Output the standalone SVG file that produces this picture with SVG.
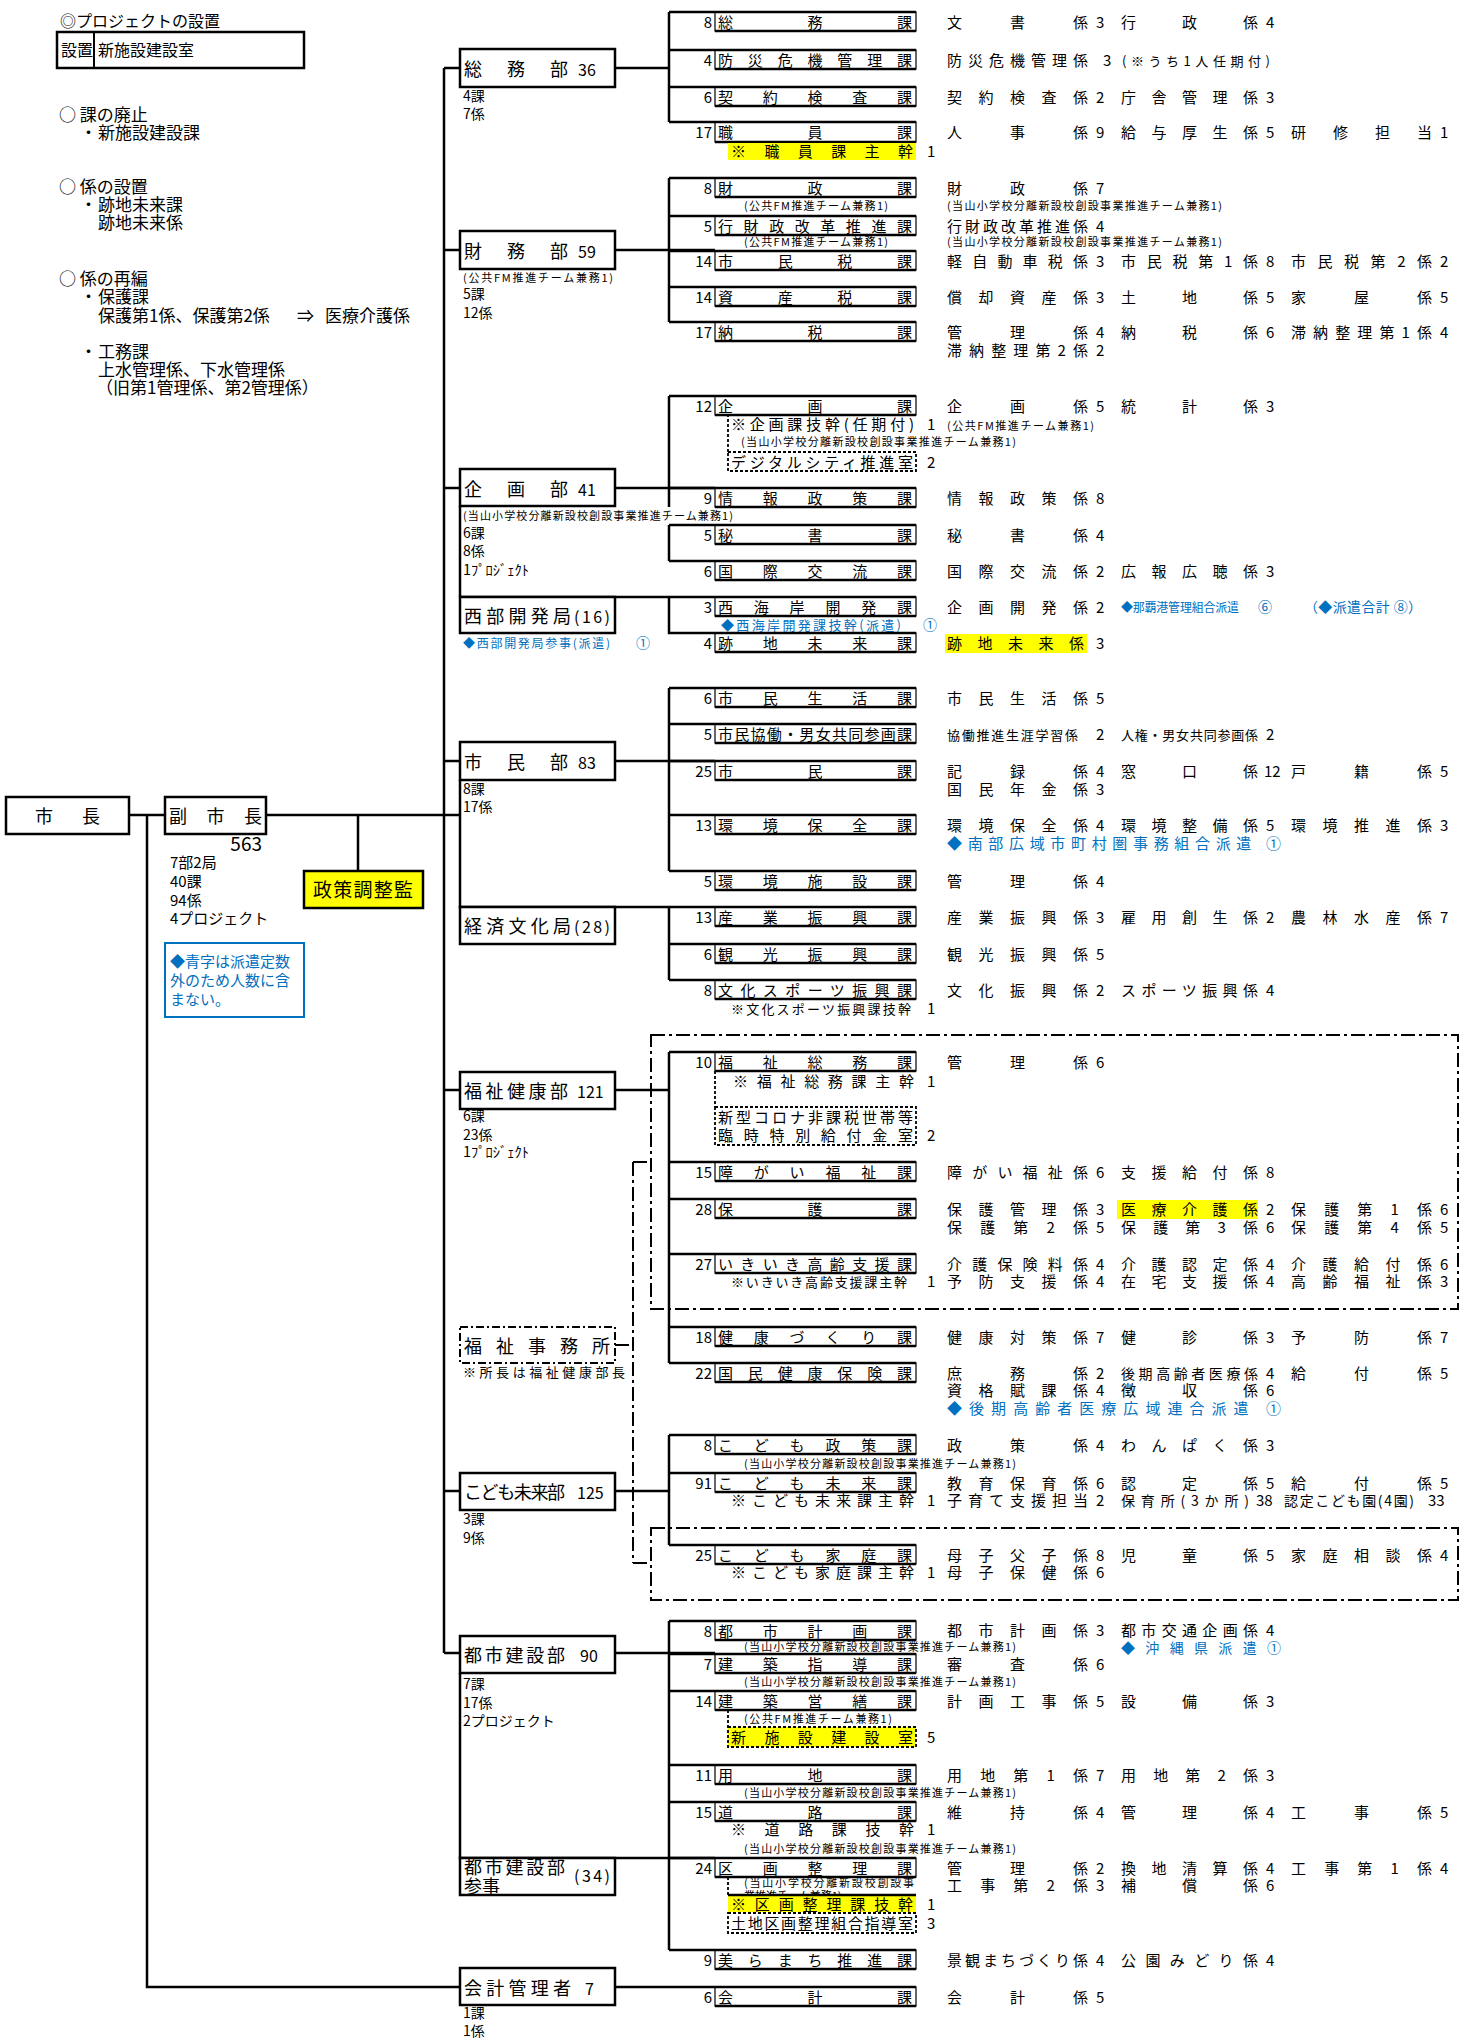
<svg xmlns="http://www.w3.org/2000/svg" width="1466" height="2038" viewBox="0 0 1466 2038">
<style>
text{font-family:"Noto Sans CJK JP","Noto Sans",sans-serif;fill:#000}
.ln{fill:none;stroke:#000;stroke-width:2.5}
.db{fill:#fff;stroke:#000;stroke-width:2.5}
.dbd{fill:#fff;stroke:#000;stroke-width:2;stroke-dasharray:8 3 2 3}
.sb{fill:#fff;stroke:#000;stroke-width:1.2}
.se{fill:none;stroke:#000;stroke-width:2.5}
.ds{fill:none;stroke:#000;stroke-width:1.8;stroke-dasharray:3 2}
.dd{fill:none;stroke:#000;stroke-width:2;stroke-dasharray:14 4 3 4}
.f19{font-size:19px}.f18{font-size:18px}.f17{font-size:17px}.f16{font-size:16px}.f15{font-size:15px}.f14{font-size:14px}.f13{font-size:13px}.f12{font-size:12px}.sm{font-size:11px}
.num{font-size:15px;text-anchor:end}
.bl{fill:#0070C0}
.yl{fill:#FFFF00}
</style>
<rect x="0" y="0" width="1466" height="2038" fill="#fff"/>

<!-- left notes -->
<g id="notes">
<text class="f16" x="60" y="27">◎プロジェクトの設置</text>
<rect x="57" y="32" width="247" height="36" fill="none" stroke="#000" stroke-width="2.5"/>
<path d="M94 32V68" stroke="#000" stroke-width="2"/>
<text class="f16" x="61" y="56">設置</text>
<text class="f16" x="98" y="56">新施設建設室</text>
<text class="f17" x="59" y="121">○ 課の廃止</text>
<text class="f17" x="80" y="139">・</text><text class="f17" x="98" y="139">新施設建設課</text>
<text class="f17" x="59" y="193">○ 係の設置</text>
<text class="f17" x="80" y="211">・</text><text class="f17" x="98" y="211">跡地未来課</text>
<text class="f17" x="98" y="229">跡地未来係</text>
<text class="f17" x="59" y="285">○ 係の再編</text>
<text class="f17" x="80" y="303">・</text><text class="f17" x="98" y="303">保護課</text>
<text class="f17" x="98" y="322">保護第1係、保護第2係</text><text class="f17" x="297" y="322">⇒</text><text class="f17" x="325" y="322">医療介護係</text>
<text class="f17" x="80" y="358">・</text><text class="f17" x="98" y="358">工務課</text>
<text class="f17" x="98" y="376">上水管理係、下水管理係</text>
<text class="f17" x="96" y="394">（旧第1管理係、第2管理係）</text>
</g>

<!-- connectors -->
<g id="connectors" class="ln">
<path d="M129 815H165M147 815V1987H460M266 815H460M358 815V871M444 68V1653"/>
<path d="M444 68H460M444 250H460M444 488H460M444 761H460M444 1090H460M444 1491H460M444 1653H460"/>
<path d="M615 68H669M615 250H715M615 488H715M615 761H715M615 1090H669M615 1491H669M615 1653H715M615 1987H715"/>
<path d="M460 506V597M460 597H715M669 597V633H715"/>
<path d="M460 780V815M460 815V907H715"/>
<path d="M460 1673V1858H715"/>
<path d="M669 12V122M669 12H715M669 50H715M669 87H715M669 122H715"/>
<path d="M669 178V322M669 178H715M669 216H715M669 251H715M669 287H715M669 322H715"/>
<path d="M669 396V507M669 396H715M669 488H715"/>
<path d="M669 525V561M669 525H715M669 561H715"/>
<path d="M669 688V871M669 688H715M669 724H715M669 761H715M669 815H715M669 871H715"/>
<path d="M669 907V980M669 944H715M669 980H715"/>
<path d="M669 1052V1363M669 1052H715M669 1162H715M669 1199H715M669 1254H715M669 1327H715M669 1363H715"/>
<path d="M669 1435V1545M669 1435H715M669 1473H715M669 1545H715"/>
<path d="M669 1621V1950M669 1621H715M669 1654H715M669 1691H715M669 1765H715M669 1802H715M669 1858H715M669 1950H715"/>
</g>
<g id="connectors-dashed">
<path class="ds" d="M728 414V452M715 1071V1107M728 1710V1727M728 1877V1895"/>
<path class="dd" d="M633 1162V1563M633 1162H651M633 1563H651M615 1345H633"/>
<rect class="dd" x="651" y="1035" width="807" height="274"/>
<rect class="dd" x="651" y="1528" width="807" height="72"/>
</g>

<!-- top nodes -->
<g id="mayor"><rect class="db" x="6" y="797" width="123" height="37"/><text class="f18" x="35" y="823">市</text><text class="f18" x="82" y="823">長</text></g>
<g id="vice-mayor"><rect class="db" x="165" y="797" width="101" height="37"/><text class="f18" x="169" y="823" textLength="93" lengthAdjust="spacing">副市長</text>
<text class="f19" x="262" y="851" text-anchor="end">563</text>
<text class="f15" x="170" y="868">7部2局</text><text class="f15" x="170" y="887">40課</text><text class="f15" x="170" y="906">94係</text><text class="f15" x="170" y="924">4プロジェクト</text>
</g>
<g id="seisaku"><rect x="304" y="871" width="119" height="37" class="yl" stroke="#000" stroke-width="2.5"/><text class="f19" x="313" y="897" textLength="100" lengthAdjust="spacing">政策調整監</text></g>
<g id="legend"><rect x="165" y="943" width="139" height="74" fill="#fff" stroke="#0070C0" stroke-width="2"/>
<text class="f15 bl" x="170" y="967">◆青字は派遣定数</text><text class="f15 bl" x="170" y="986">外のため人数に含</text><text class="f15 bl" x="170" y="1005">まない。</text></g>

<!-- departments -->
<g id="d-somu"><rect class="db" x="460" y="49" width="155" height="38"/><text class="f18" x="464" y="76" textLength="104" lengthAdjust="spacing">総務部</text><text class="f16" x="578" y="76">36</text>
<text class="f14" x="463" y="101">4課</text><text class="f14" x="463" y="119">7係</text></g>
<g id="d-zaimu"><rect class="db" x="460" y="231" width="155" height="38"/><text class="f18" x="464" y="258" textLength="104" lengthAdjust="spacing">財務部</text><text class="f16" x="578" y="258">59</text>
<text class="sm" x="463" y="282" textLength="150" lengthAdjust="spacing">(公共FM推進チーム兼務1)</text>
<text class="f14" x="463" y="299">5課</text><text class="f14" x="463" y="318">12係</text></g>
<g id="d-kikaku"><rect class="db" x="460" y="469" width="155" height="37"/><text class="f18" x="464" y="496" textLength="104" lengthAdjust="spacing">企画部</text><text class="f16" x="578" y="496">41</text>
<text class="sm" x="463" y="520" textLength="270" lengthAdjust="spacing">(当山小学校分離新設校創設事業推進チーム兼務1)</text>
<text class="f14" x="463" y="538">6課</text><text class="f14" x="463" y="556">8係</text><text class="f14" x="463" y="575" textLength="66" lengthAdjust="spacingAndGlyphs">1ﾌﾟﾛｼﾞｪｸﾄ</text></g>
<g id="d-seibu"><rect class="db" x="460" y="597" width="155" height="36"/><text class="f18" x="464" y="623" textLength="107" lengthAdjust="spacing">西部開発局</text><text class="f16" x="574" y="623" textLength="36" lengthAdjust="spacing">(16)</text>
<text class="f12 bl" x="463" y="648" textLength="147" lengthAdjust="spacing">◆西部開発局参事(派遣)</text><text class="f14 bl" x="636" y="648">①</text></g>
<g id="d-shimin"><rect class="db" x="460" y="742" width="155" height="38"/><text class="f18" x="464" y="769" textLength="104" lengthAdjust="spacing">市民部</text><text class="f16" x="578" y="769">83</text>
<text class="f14" x="463" y="794">8課</text><text class="f14" x="463" y="812">17係</text></g>
<g id="d-keizai"><rect class="db" x="460" y="907" width="155" height="37"/><text class="f18" x="464" y="933" textLength="107" lengthAdjust="spacing">経済文化局</text><text class="f16" x="574" y="933" textLength="36" lengthAdjust="spacing">(28)</text></g>
<g id="d-fukushi"><rect class="db" x="460" y="1072" width="155" height="37"/><text class="f18" x="464" y="1098" textLength="104" lengthAdjust="spacing">福祉健康部</text><text class="f16" x="577" y="1098">121</text>
<text class="f14" x="463" y="1121">6課</text><text class="f14" x="463" y="1140">23係</text><text class="f14" x="463" y="1157" textLength="66" lengthAdjust="spacingAndGlyphs">1ﾌﾟﾛｼﾞｪｸﾄ</text></g>
<g id="d-jimusho"><rect class="dbd" x="460" y="1327" width="155" height="36"/><text class="f18" x="464" y="1353" textLength="146" lengthAdjust="spacing">福祉事務所</text>
<text class="f13" x="463" y="1377" textLength="162" lengthAdjust="spacing">※所長は福祉健康部長</text></g>
<g id="d-kodomo"><rect class="db" x="460" y="1473" width="155" height="37"/><text class="f18" x="464" y="1499" textLength="101" lengthAdjust="spacing">こども未来部</text><text class="f16" x="577" y="1499">125</text>
<text class="f14" x="463" y="1524">3課</text><text class="f14" x="463" y="1543">9係</text></g>
<g id="d-toshi"><rect class="db" x="460" y="1636" width="155" height="37"/><text class="f18" x="464" y="1662" textLength="101" lengthAdjust="spacing">都市建設部</text><text class="f16" x="580" y="1662">90</text>
<text class="f14" x="463" y="1689">7課</text><text class="f14" x="463" y="1708">17係</text><text class="f14" x="463" y="1726">2プロジェクト</text></g>
<g id="d-sanji"><rect class="db" x="460" y="1858" width="155" height="37"/><text class="f18" x="464" y="1874" textLength="101" lengthAdjust="spacing">都市建設部</text><text class="f18" x="464" y="1893">参事</text><text class="f16" x="574" y="1882" textLength="36" lengthAdjust="spacing">(34)</text></g>
<g id="d-kaikei"><rect class="db" x="460" y="1968" width="155" height="37"/><text class="f18" x="464" y="1995" textLength="107" lengthAdjust="spacing">会計管理者</text><text class="f16" x="585" y="1995">7</text>
<text class="f14" x="463" y="2018">1課</text><text class="f14" x="463" y="2036">1係</text></g>

<!-- sections -->
<g id="s01"><rect class="sb" x="715" y="12" width="201" height="19"/><path class="se" d="M715 12h201M715 31h201"/><text class="num" x="712" y="28">8</text><text class="f15" x="718" y="28" textLength="194" lengthAdjust="spacing">総務課</text>
<text class="f15" x="947" y="28" textLength="141" lengthAdjust="spacing">文書係</text><text class="f15" x="1096" y="28">3</text><text class="f15" x="1121" y="28" textLength="137" lengthAdjust="spacing">行政係</text><text class="f15" x="1266" y="28">4</text></g>
<g id="s02"><rect class="sb" x="715" y="50" width="201" height="19"/><path class="se" d="M715 50h201M715 69h201"/><text class="num" x="712" y="66">4</text><text class="f15" x="718" y="66" textLength="194" lengthAdjust="spacing">防災危機管理課</text>
<text class="f15" x="947" y="66" textLength="141" lengthAdjust="spacing">防災危機管理係</text><text class="f15" x="1103" y="66">3</text><text class="f13" x="1122" y="66" textLength="148" lengthAdjust="spacing">(※うち1人任期付)</text></g>
<g id="s03"><rect class="sb" x="715" y="87" width="201" height="19"/><path class="se" d="M715 87h201M715 106h201"/><text class="num" x="712" y="103">6</text><text class="f15" x="718" y="103" textLength="194" lengthAdjust="spacing">契約検査課</text>
<text class="f15" x="947" y="103" textLength="141" lengthAdjust="spacing">契約検査係</text><text class="f15" x="1096" y="103">2</text><text class="f15" x="1121" y="103" textLength="137" lengthAdjust="spacing">庁舎管理係</text><text class="f15" x="1266" y="103">3</text></g>
<g id="s04"><rect class="sb" x="715" y="122" width="201" height="20"/><path class="se" d="M715 122h201M715 142h201"/><text class="num" x="712" y="138">17</text><text class="f15" x="718" y="138" textLength="194" lengthAdjust="spacing">職員課</text>
<text class="f15" x="947" y="138" textLength="141" lengthAdjust="spacing">人事係</text><text class="f15" x="1096" y="138">9</text><text class="f15" x="1121" y="138" textLength="137" lengthAdjust="spacing">給与厚生係</text><text class="f15" x="1266" y="138">5</text><text class="f15" x="1291" y="138" textLength="141" lengthAdjust="spacing">研修担当</text><text class="f15" x="1440" y="138">1</text>
<rect class="yl" x="728" y="143" width="188" height="17"/><text class="f15" x="731" y="157" textLength="182" lengthAdjust="spacing">※職員課主幹</text><text class="f15" x="927" y="157">1</text></g>
<g id="s05"><rect class="sb" x="715" y="178" width="201" height="19"/><path class="se" d="M715 178h201M715 197h201"/><text class="num" x="712" y="194">8</text><text class="f15" x="718" y="194" textLength="194" lengthAdjust="spacing">財政課</text>
<text class="f15" x="947" y="194" textLength="141" lengthAdjust="spacing">財政係</text><text class="f15" x="1096" y="194">7</text>
<text class="sm" x="744" y="210" textLength="144" lengthAdjust="spacing">(公共FM推進チーム兼務1)</text><text class="sm" x="947" y="210" textLength="275" lengthAdjust="spacing">(当山小学校分離新設校創設事業推進チーム兼務1)</text></g>
<g id="s06"><rect class="sb" x="715" y="216" width="201" height="19"/><path class="se" d="M715 216h201M715 235h201"/><text class="num" x="712" y="232">5</text><text class="f15" x="718" y="232" textLength="194" lengthAdjust="spacing">行財政改革推進課</text>
<text class="f15" x="947" y="232" textLength="141" lengthAdjust="spacing">行財政改革推進係</text><text class="f15" x="1096" y="232">4</text>
<text class="sm" x="744" y="246" textLength="144" lengthAdjust="spacing">(公共FM推進チーム兼務1)</text><text class="sm" x="947" y="246" textLength="275" lengthAdjust="spacing">(当山小学校分離新設校創設事業推進チーム兼務1)</text></g>
<g id="s07"><rect class="sb" x="715" y="251" width="201" height="19"/><path class="se" d="M715 251h201M715 270h201"/><text class="num" x="712" y="267">14</text><text class="f15" x="718" y="267" textLength="194" lengthAdjust="spacing">市民税課</text>
<text class="f15" x="947" y="267" textLength="141" lengthAdjust="spacing">軽自動車税係</text><text class="f15" x="1096" y="267">3</text><text class="f15" x="1121" y="267" textLength="137" lengthAdjust="spacing">市民税第1係</text><text class="f15" x="1266" y="267">8</text><text class="f15" x="1291" y="267" textLength="141" lengthAdjust="spacing">市民税第2係</text><text class="f15" x="1440" y="267">2</text></g>
<g id="s08"><rect class="sb" x="715" y="287" width="201" height="19"/><path class="se" d="M715 287h201M715 306h201"/><text class="num" x="712" y="303">14</text><text class="f15" x="718" y="303" textLength="194" lengthAdjust="spacing">資産税課</text>
<text class="f15" x="947" y="303" textLength="141" lengthAdjust="spacing">償却資産係</text><text class="f15" x="1096" y="303">3</text><text class="f15" x="1121" y="303" textLength="137" lengthAdjust="spacing">土地係</text><text class="f15" x="1266" y="303">5</text><text class="f15" x="1291" y="303" textLength="141" lengthAdjust="spacing">家屋係</text><text class="f15" x="1440" y="303">5</text></g>
<g id="s09"><rect class="sb" x="715" y="322" width="201" height="19"/><path class="se" d="M715 322h201M715 341h201"/><text class="num" x="712" y="338">17</text><text class="f15" x="718" y="338" textLength="194" lengthAdjust="spacing">納税課</text>
<text class="f15" x="947" y="338" textLength="141" lengthAdjust="spacing">管理係</text><text class="f15" x="1096" y="338">4</text><text class="f15" x="1121" y="338" textLength="137" lengthAdjust="spacing">納税係</text><text class="f15" x="1266" y="338">6</text><text class="f15" x="1291" y="338" textLength="141" lengthAdjust="spacing">滞納整理第1係</text><text class="f15" x="1440" y="338">4</text>
<text class="f15" x="947" y="356" textLength="141" lengthAdjust="spacing">滞納整理第2係</text><text class="f15" x="1096" y="356">2</text></g>
<g id="s10"><rect class="sb" x="715" y="396" width="201" height="19"/><path class="se" d="M715 396h201M715 415h201"/><text class="num" x="712" y="412">12</text><text class="f15" x="718" y="412" textLength="194" lengthAdjust="spacing">企画課</text>
<text class="f15" x="947" y="412" textLength="141" lengthAdjust="spacing">企画係</text><text class="f15" x="1096" y="412">5</text><text class="f15" x="1121" y="412" textLength="137" lengthAdjust="spacing">統計係</text><text class="f15" x="1266" y="412">3</text>
<text class="f15" x="731" y="430" textLength="183" lengthAdjust="spacing">※企画課技幹(任期付)</text><text class="f15" x="927" y="430">1</text><text class="sm" x="947" y="430" textLength="147" lengthAdjust="spacing">(公共FM推進チーム兼務1)</text>
<text class="sm" x="741" y="446" textLength="275" lengthAdjust="spacing">(当山小学校分離新設校創設事業推進チーム兼務1)</text>
<rect class="ds" x="728" y="452" width="188" height="19"/><text class="f15" x="731" y="468" textLength="182" lengthAdjust="spacing">デジタルシティ推進室</text><text class="f15" x="927" y="468">2</text></g>
<g id="s11"><rect class="sb" x="715" y="488" width="201" height="19"/><path class="se" d="M715 488h201M715 507h201"/><text class="num" x="712" y="504">9</text><text class="f15" x="718" y="504" textLength="194" lengthAdjust="spacing">情報政策課</text>
<text class="f15" x="947" y="504" textLength="141" lengthAdjust="spacing">情報政策係</text><text class="f15" x="1096" y="504">8</text></g>
<g id="s12"><rect class="sb" x="715" y="525" width="201" height="19"/><path class="se" d="M715 525h201M715 544h201"/><text class="num" x="712" y="541">5</text><text class="f15" x="718" y="541" textLength="194" lengthAdjust="spacing">秘書課</text>
<text class="f15" x="947" y="541" textLength="141" lengthAdjust="spacing">秘書係</text><text class="f15" x="1096" y="541">4</text></g>
<g id="s13"><rect class="sb" x="715" y="561" width="201" height="19"/><path class="se" d="M715 561h201M715 580h201"/><text class="num" x="712" y="577">6</text><text class="f15" x="718" y="577" textLength="194" lengthAdjust="spacing">国際交流課</text>
<text class="f15" x="947" y="577" textLength="141" lengthAdjust="spacing">国際交流係</text><text class="f15" x="1096" y="577">2</text><text class="f15" x="1121" y="577" textLength="137" lengthAdjust="spacing">広報広聴係</text><text class="f15" x="1266" y="577">3</text></g>
<g id="s14"><rect class="sb" x="715" y="597" width="201" height="19"/><path class="se" d="M715 597h201M715 616h201"/><text class="num" x="712" y="613">3</text><text class="f15" x="718" y="613" textLength="194" lengthAdjust="spacing">西海岸開発課</text>
<text class="f15" x="947" y="613" textLength="141" lengthAdjust="spacing">企画開発係</text><text class="f15" x="1096" y="613">2</text>
<text class="f12 bl" x="1121" y="612" textLength="118" lengthAdjust="spacing">◆那覇港管理組合派遣</text><text class="f14 bl" x="1258" y="612">⑥</text><text class="f14 bl" x="1304" y="612" textLength="118" lengthAdjust="spacing">（◆派遣合計 ⑧）</text>
<text class="f13 bl" x="721" y="630" textLength="180" lengthAdjust="spacing">◆西海岸開発課技幹(派遣)</text><text class="f14 bl" x="923" y="630">①</text></g>
<g id="s15"><rect class="sb" x="715" y="633" width="201" height="19"/><path class="se" d="M715 633h201M715 652h201"/><text class="num" x="712" y="649">4</text><text class="f15" x="718" y="649" textLength="194" lengthAdjust="spacing">跡地未来課</text>
<rect class="yl" x="945" y="634" width="142" height="19"/><text class="f15" x="947" y="649" textLength="137" lengthAdjust="spacing">跡地未来係</text><text class="f15" x="1096" y="649">3</text></g>
<g id="s16"><rect class="sb" x="715" y="688" width="201" height="19"/><path class="se" d="M715 688h201M715 707h201"/><text class="num" x="712" y="704">6</text><text class="f15" x="718" y="704" textLength="194" lengthAdjust="spacing">市民生活課</text>
<text class="f15" x="947" y="704" textLength="141" lengthAdjust="spacing">市民生活係</text><text class="f15" x="1096" y="704">5</text></g>
<g id="s17"><rect class="sb" x="715" y="724" width="201" height="19"/><path class="se" d="M715 724h201M715 743h201"/><text class="num" x="712" y="740">5</text><text class="f15" x="718" y="740" textLength="194" lengthAdjust="spacing">市民協働・男女共同参画課</text>
<text class="f13" x="947" y="740" textLength="131" lengthAdjust="spacing">協働推進生涯学習係</text><text class="f15" x="1096" y="740">2</text><text class="f13" x="1121" y="740" textLength="137" lengthAdjust="spacing">人権・男女共同参画係</text><text class="f15" x="1266" y="740">2</text></g>
<g id="s18"><rect class="sb" x="715" y="761" width="201" height="19"/><path class="se" d="M715 761h201M715 780h201"/><text class="num" x="712" y="777">25</text><text class="f15" x="718" y="777" textLength="194" lengthAdjust="spacing">市民課</text>
<text class="f15" x="947" y="777" textLength="141" lengthAdjust="spacing">記録係</text><text class="f15" x="1096" y="777">4</text><text class="f15" x="1121" y="777" textLength="137" lengthAdjust="spacing">窓口係</text><text class="f15" x="1264" y="777">12</text><text class="f15" x="1291" y="777" textLength="141" lengthAdjust="spacing">戸籍係</text><text class="f15" x="1440" y="777">5</text>
<text class="f15" x="947" y="795" textLength="141" lengthAdjust="spacing">国民年金係</text><text class="f15" x="1096" y="795">3</text></g>
<g id="s19"><rect class="sb" x="715" y="815" width="201" height="19"/><path class="se" d="M715 815h201M715 834h201"/><text class="num" x="712" y="831">13</text><text class="f15" x="718" y="831" textLength="194" lengthAdjust="spacing">環境保全課</text>
<text class="f15" x="947" y="831" textLength="141" lengthAdjust="spacing">環境保全係</text><text class="f15" x="1096" y="831">4</text><text class="f15" x="1121" y="831" textLength="137" lengthAdjust="spacing">環境整備係</text><text class="f15" x="1266" y="831">5</text><text class="f15" x="1291" y="831" textLength="141" lengthAdjust="spacing">環境推進係</text><text class="f15" x="1440" y="831">3</text>
<text class="f15 bl" x="947" y="849" textLength="334" lengthAdjust="spacing">◆南部広域市町村圏事務組合派遣 ①</text></g>
<g id="s20"><rect class="sb" x="715" y="871" width="201" height="19"/><path class="se" d="M715 871h201M715 890h201"/><text class="num" x="712" y="887">5</text><text class="f15" x="718" y="887" textLength="194" lengthAdjust="spacing">環境施設課</text>
<text class="f15" x="947" y="887" textLength="141" lengthAdjust="spacing">管理係</text><text class="f15" x="1096" y="887">4</text></g>
<g id="s21"><rect class="sb" x="715" y="907" width="201" height="19"/><path class="se" d="M715 907h201M715 926h201"/><text class="num" x="712" y="923">13</text><text class="f15" x="718" y="923" textLength="194" lengthAdjust="spacing">産業振興課</text>
<text class="f15" x="947" y="923" textLength="141" lengthAdjust="spacing">産業振興係</text><text class="f15" x="1096" y="923">3</text><text class="f15" x="1121" y="923" textLength="137" lengthAdjust="spacing">雇用創生係</text><text class="f15" x="1266" y="923">2</text><text class="f15" x="1291" y="923" textLength="141" lengthAdjust="spacing">農林水産係</text><text class="f15" x="1440" y="923">7</text></g>
<g id="s22"><rect class="sb" x="715" y="944" width="201" height="19"/><path class="se" d="M715 944h201M715 963h201"/><text class="num" x="712" y="960">6</text><text class="f15" x="718" y="960" textLength="194" lengthAdjust="spacing">観光振興課</text>
<text class="f15" x="947" y="960" textLength="141" lengthAdjust="spacing">観光振興係</text><text class="f15" x="1096" y="960">5</text></g>
<g id="s23"><rect class="sb" x="715" y="980" width="201" height="19"/><path class="se" d="M715 980h201M715 999h201"/><text class="num" x="712" y="996">8</text><text class="f15" x="718" y="996" textLength="194" lengthAdjust="spacing">文化スポーツ振興課</text>
<text class="f15" x="947" y="996" textLength="141" lengthAdjust="spacing">文化振興係</text><text class="f15" x="1096" y="996">2</text><text class="f15" x="1121" y="996" textLength="137" lengthAdjust="spacing">スポーツ振興係</text><text class="f15" x="1266" y="996">4</text>
<text class="f13" x="731" y="1014" textLength="180" lengthAdjust="spacing">※文化スポーツ振興課技幹</text><text class="f15" x="927" y="1014">1</text></g>
<g id="s24"><rect class="sb" x="715" y="1052" width="201" height="19"/><path class="se" d="M715 1052h201M715 1071h201"/><text class="num" x="712" y="1068">10</text><text class="f15" x="718" y="1068" textLength="194" lengthAdjust="spacing">福祉総務課</text>
<text class="f15" x="947" y="1068" textLength="141" lengthAdjust="spacing">管理係</text><text class="f15" x="1096" y="1068">6</text>
<text class="f15" x="733" y="1087" textLength="181" lengthAdjust="spacing">※福祉総務課主幹</text><text class="f15" x="927" y="1087">1</text>
<rect class="ds" x="715" y="1107" width="201" height="38"/><text class="f15" x="718" y="1123" textLength="195" lengthAdjust="spacing">新型コロナ非課税世帯等</text><text class="f15" x="718" y="1141" textLength="195" lengthAdjust="spacing">臨時特別給付金室</text><text class="f15" x="927" y="1141">2</text></g>
<g id="s25"><rect class="sb" x="715" y="1162" width="201" height="19"/><path class="se" d="M715 1162h201M715 1181h201"/><text class="num" x="712" y="1178">15</text><text class="f15" x="718" y="1178" textLength="194" lengthAdjust="spacing">障がい福祉課</text>
<text class="f15" x="947" y="1178" textLength="141" lengthAdjust="spacing">障がい福祉係</text><text class="f15" x="1096" y="1178">6</text><text class="f15" x="1121" y="1178" textLength="137" lengthAdjust="spacing">支援給付係</text><text class="f15" x="1266" y="1178">8</text></g>
<g id="s26"><rect class="sb" x="715" y="1199" width="201" height="19"/><path class="se" d="M715 1199h201M715 1218h201"/><text class="num" x="712" y="1215">28</text><text class="f15" x="718" y="1215" textLength="194" lengthAdjust="spacing">保護課</text>
<rect class="yl" x="1117" y="1200" width="141" height="19"/>
<text class="f15" x="947" y="1215" textLength="141" lengthAdjust="spacing">保護管理係</text><text class="f15" x="1096" y="1215">3</text><text class="f15" x="1121" y="1215" textLength="137" lengthAdjust="spacing">医療介護係</text><text class="f15" x="1266" y="1215">2</text><text class="f15" x="1291" y="1215" textLength="141" lengthAdjust="spacing">保護第1係</text><text class="f15" x="1440" y="1215">6</text>
<text class="f15" x="947" y="1233" textLength="141" lengthAdjust="spacing">保護第2係</text><text class="f15" x="1096" y="1233">5</text><text class="f15" x="1121" y="1233" textLength="137" lengthAdjust="spacing">保護第3係</text><text class="f15" x="1266" y="1233">6</text><text class="f15" x="1291" y="1233" textLength="141" lengthAdjust="spacing">保護第4係</text><text class="f15" x="1440" y="1233">5</text></g>
<g id="s27"><rect class="sb" x="715" y="1254" width="201" height="19"/><path class="se" d="M715 1254h201M715 1273h201"/><text class="num" x="712" y="1270">27</text><text class="f15" x="718" y="1270" textLength="194" lengthAdjust="spacing">いきいき高齢支援課</text>
<text class="f15" x="947" y="1270" textLength="141" lengthAdjust="spacing">介護保険料係</text><text class="f15" x="1096" y="1270">4</text><text class="f15" x="1121" y="1270" textLength="137" lengthAdjust="spacing">介護認定係</text><text class="f15" x="1266" y="1270">4</text><text class="f15" x="1291" y="1270" textLength="141" lengthAdjust="spacing">介護給付係</text><text class="f15" x="1440" y="1270">6</text>
<text class="f13" x="731" y="1287" textLength="176" lengthAdjust="spacing">※いきいき高齢支援課主幹</text><text class="f15" x="927" y="1287">1</text>
<text class="f15" x="947" y="1287" textLength="141" lengthAdjust="spacing">予防支援係</text><text class="f15" x="1096" y="1287">4</text><text class="f15" x="1121" y="1287" textLength="137" lengthAdjust="spacing">在宅支援係</text><text class="f15" x="1266" y="1287">4</text><text class="f15" x="1291" y="1287" textLength="141" lengthAdjust="spacing">高齢福祉係</text><text class="f15" x="1440" y="1287">3</text></g>
<g id="s28"><rect class="sb" x="715" y="1327" width="201" height="19"/><path class="se" d="M715 1327h201M715 1346h201"/><text class="num" x="712" y="1343">18</text><text class="f15" x="718" y="1343" textLength="194" lengthAdjust="spacing">健康づくり課</text>
<text class="f15" x="947" y="1343" textLength="141" lengthAdjust="spacing">健康対策係</text><text class="f15" x="1096" y="1343">7</text><text class="f15" x="1121" y="1343" textLength="137" lengthAdjust="spacing">健診係</text><text class="f15" x="1266" y="1343">3</text><text class="f15" x="1291" y="1343" textLength="141" lengthAdjust="spacing">予防係</text><text class="f15" x="1440" y="1343">7</text></g>
<g id="s29"><rect class="sb" x="715" y="1363" width="201" height="19"/><path class="se" d="M715 1363h201M715 1382h201"/><text class="num" x="712" y="1379">22</text><text class="f15" x="718" y="1379" textLength="194" lengthAdjust="spacing">国民健康保険課</text>
<text class="f15" x="947" y="1379" textLength="141" lengthAdjust="spacing">庶務係</text><text class="f15" x="1096" y="1379">2</text><text class="f14" x="1121" y="1379" textLength="137" lengthAdjust="spacing">後期高齢者医療係</text><text class="f15" x="1266" y="1379">4</text><text class="f15" x="1291" y="1379" textLength="141" lengthAdjust="spacing">給付係</text><text class="f15" x="1440" y="1379">5</text>
<text class="f15" x="947" y="1396" textLength="141" lengthAdjust="spacing">資格賦課係</text><text class="f15" x="1096" y="1396">4</text><text class="f15" x="1121" y="1396" textLength="137" lengthAdjust="spacing">徴収係</text><text class="f15" x="1266" y="1396">6</text>
<text class="f15 bl" x="947" y="1414" textLength="334" lengthAdjust="spacing">◆後期高齢者医療広域連合派遣 ①</text></g>
<g id="s30"><rect class="sb" x="715" y="1435" width="201" height="19"/><path class="se" d="M715 1435h201M715 1454h201"/><text class="num" x="712" y="1451">8</text><text class="f15" x="718" y="1451" textLength="194" lengthAdjust="spacing">こども政策課</text>
<text class="f15" x="947" y="1451" textLength="141" lengthAdjust="spacing">政策係</text><text class="f15" x="1096" y="1451">4</text><text class="f15" x="1121" y="1451" textLength="137" lengthAdjust="spacing">わんぱく係</text><text class="f15" x="1266" y="1451">3</text>
<text class="sm" x="744" y="1468" textLength="272" lengthAdjust="spacing">(当山小学校分離新設校創設事業推進チーム兼務1)</text></g>
<g id="s31"><rect class="sb" x="715" y="1473" width="201" height="19"/><path class="se" d="M715 1473h201M715 1492h201"/><text class="num" x="712" y="1489">91</text><text class="f15" x="718" y="1489" textLength="194" lengthAdjust="spacing">こども未来課</text>
<text class="f15" x="947" y="1489" textLength="141" lengthAdjust="spacing">教育保育係</text><text class="f15" x="1096" y="1489">6</text><text class="f15" x="1121" y="1489" textLength="137" lengthAdjust="spacing">認定係</text><text class="f15" x="1266" y="1489">5</text><text class="f15" x="1291" y="1489" textLength="141" lengthAdjust="spacing">給付係</text><text class="f15" x="1440" y="1489">5</text>
<text class="f15" x="731" y="1506" textLength="183" lengthAdjust="spacing">※こども未来課主幹</text><text class="f15" x="927" y="1506">1</text>
<text class="f15" x="947" y="1506" textLength="141" lengthAdjust="spacing">子育て支援担当</text><text class="f15" x="1096" y="1506">2</text><text class="f14" x="1121" y="1506" textLength="128" lengthAdjust="spacing">保育所(3か所)</text><text class="f15" x="1256" y="1506">38</text><text class="f14" x="1284" y="1506" textLength="130" lengthAdjust="spacing">認定こども園(4園)</text><text class="f15" x="1428" y="1506">33</text></g>
<g id="s32"><rect class="sb" x="715" y="1545" width="201" height="19"/><path class="se" d="M715 1545h201M715 1564h201"/><text class="num" x="712" y="1561">25</text><text class="f15" x="718" y="1561" textLength="194" lengthAdjust="spacing">こども家庭課</text>
<text class="f15" x="947" y="1561" textLength="141" lengthAdjust="spacing">母子父子係</text><text class="f15" x="1096" y="1561">8</text><text class="f15" x="1121" y="1561" textLength="137" lengthAdjust="spacing">児童係</text><text class="f15" x="1266" y="1561">5</text><text class="f15" x="1291" y="1561" textLength="141" lengthAdjust="spacing">家庭相談係</text><text class="f15" x="1440" y="1561">4</text>
<text class="f15" x="731" y="1578" textLength="183" lengthAdjust="spacing">※こども家庭課主幹</text><text class="f15" x="927" y="1578">1</text>
<text class="f15" x="947" y="1578" textLength="141" lengthAdjust="spacing">母子保健係</text><text class="f15" x="1096" y="1578">6</text></g>
<g id="s33"><rect class="sb" x="715" y="1621" width="201" height="19"/><path class="se" d="M715 1621h201M715 1640h201"/><text class="num" x="712" y="1637">8</text><text class="f15" x="718" y="1637" textLength="194" lengthAdjust="spacing">都市計画課</text>
<text class="f15" x="947" y="1636" textLength="141" lengthAdjust="spacing">都市計画係</text><text class="f15" x="1096" y="1636">3</text><text class="f15" x="1121" y="1636" textLength="137" lengthAdjust="spacing">都市交通企画係</text><text class="f15" x="1266" y="1636">4</text>
<text class="sm" x="744" y="1651" textLength="272" lengthAdjust="spacing">(当山小学校分離新設校創設事業推進チーム兼務1)</text>
<text class="f14 bl" x="1121" y="1653" textLength="160" lengthAdjust="spacing">◆沖縄県派遣①</text></g>
<g id="s34"><rect class="sb" x="715" y="1654" width="201" height="19"/><path class="se" d="M715 1654h201M715 1673h201"/><text class="num" x="712" y="1670">7</text><text class="f15" x="718" y="1670" textLength="194" lengthAdjust="spacing">建築指導課</text>
<text class="f15" x="947" y="1670" textLength="141" lengthAdjust="spacing">審査係</text><text class="f15" x="1096" y="1670">6</text>
<text class="sm" x="744" y="1686" textLength="272" lengthAdjust="spacing">(当山小学校分離新設校創設事業推進チーム兼務1)</text></g>
<g id="s35"><rect class="sb" x="715" y="1691" width="201" height="19"/><path class="se" d="M715 1691h201M715 1710h201"/><text class="num" x="712" y="1707">14</text><text class="f15" x="718" y="1707" textLength="194" lengthAdjust="spacing">建築営繕課</text>
<text class="f15" x="947" y="1707" textLength="141" lengthAdjust="spacing">計画工事係</text><text class="f15" x="1096" y="1707">5</text><text class="f15" x="1121" y="1707" textLength="137" lengthAdjust="spacing">設備係</text><text class="f15" x="1266" y="1707">3</text>
<text class="sm" x="744" y="1723" textLength="148" lengthAdjust="spacing">(公共FM推進チーム兼務1)</text>
<rect x="728" y="1727" width="188" height="20" class="yl" stroke="#000" stroke-width="1.8" stroke-dasharray="3 2"/><text class="f15" x="731" y="1743" textLength="182" lengthAdjust="spacing">新施設建設室</text><text class="f15" x="927" y="1743">5</text></g>
<g id="s36"><rect class="sb" x="715" y="1765" width="201" height="19"/><path class="se" d="M715 1765h201M715 1784h201"/><text class="num" x="712" y="1781">11</text><text class="f15" x="718" y="1781" textLength="194" lengthAdjust="spacing">用地課</text>
<text class="f15" x="947" y="1781" textLength="141" lengthAdjust="spacing">用地第1係</text><text class="f15" x="1096" y="1781">7</text><text class="f15" x="1121" y="1781" textLength="137" lengthAdjust="spacing">用地第2係</text><text class="f15" x="1266" y="1781">3</text>
<text class="sm" x="744" y="1797" textLength="272" lengthAdjust="spacing">(当山小学校分離新設校創設事業推進チーム兼務1)</text></g>
<g id="s37"><rect class="sb" x="715" y="1802" width="201" height="19"/><path class="se" d="M715 1802h201M715 1821h201"/><text class="num" x="712" y="1818">15</text><text class="f15" x="718" y="1818" textLength="194" lengthAdjust="spacing">道路課</text>
<text class="f15" x="947" y="1818" textLength="141" lengthAdjust="spacing">維持係</text><text class="f15" x="1096" y="1818">4</text><text class="f15" x="1121" y="1818" textLength="137" lengthAdjust="spacing">管理係</text><text class="f15" x="1266" y="1818">4</text><text class="f15" x="1291" y="1818" textLength="141" lengthAdjust="spacing">工事係</text><text class="f15" x="1440" y="1818">5</text>
<text class="f15" x="731" y="1835" textLength="183" lengthAdjust="spacing">※道路課技幹</text><text class="f15" x="927" y="1835">1</text>
<text class="sm" x="744" y="1853" textLength="272" lengthAdjust="spacing">(当山小学校分離新設校創設事業推進チーム兼務1)</text></g>
<g id="s38"><rect class="sb" x="715" y="1858" width="201" height="19"/><path class="se" d="M715 1858h201M715 1877h201"/><text class="num" x="712" y="1874">24</text><text class="f15" x="718" y="1874" textLength="194" lengthAdjust="spacing">区画整理課</text>
<text class="f15" x="947" y="1874" textLength="141" lengthAdjust="spacing">管理係</text><text class="f15" x="1096" y="1874">2</text><text class="f15" x="1121" y="1874" textLength="137" lengthAdjust="spacing">換地清算係</text><text class="f15" x="1266" y="1874">4</text><text class="f15" x="1291" y="1874" textLength="141" lengthAdjust="spacing">工事第1係</text><text class="f15" x="1440" y="1874">4</text>
<text class="f15" x="947" y="1891" textLength="141" lengthAdjust="spacing">工事第2係</text><text class="f15" x="1096" y="1891">3</text><text class="f15" x="1121" y="1891" textLength="137" lengthAdjust="spacing">補償係</text><text class="f15" x="1266" y="1891">6</text>
<text class="sm" x="744" y="1887" textLength="170" lengthAdjust="spacing">(当山小学校分離新設校創設事</text><text class="sm" x="744" y="1900">業推進チーム兼務1)</text>
<rect class="yl" x="728" y="1895" width="188" height="17"/><path class="se" d="M728 1895h188"/><text class="f15" x="731" y="1910" textLength="182" lengthAdjust="spacing">※区画整理課技幹</text><text class="f15" x="927" y="1910">1</text>
<rect class="ds" x="728" y="1913" width="188" height="20"/><text class="f15" x="731" y="1929" textLength="182" lengthAdjust="spacing">土地区画整理組合指導室</text><text class="f15" x="927" y="1929">3</text></g>
<g id="s39"><rect class="sb" x="715" y="1950" width="201" height="19"/><path class="se" d="M715 1950h201M715 1969h201"/><text class="num" x="712" y="1966">9</text><text class="f15" x="718" y="1966" textLength="194" lengthAdjust="spacing">美らまち推進課</text>
<text class="f15" x="947" y="1966" textLength="141" lengthAdjust="spacing">景観まちづくり係</text><text class="f15" x="1096" y="1966">4</text><text class="f15" x="1121" y="1966" textLength="137" lengthAdjust="spacing">公園みどり係</text><text class="f15" x="1266" y="1966">4</text></g>
<g id="s40"><rect class="sb" x="715" y="1987" width="201" height="19"/><path class="se" d="M715 1987h201M715 2006h201"/><text class="num" x="712" y="2003">6</text><text class="f15" x="718" y="2003" textLength="194" lengthAdjust="spacing">会計課</text>
<text class="f15" x="947" y="2003" textLength="141" lengthAdjust="spacing">会計係</text><text class="f15" x="1096" y="2003">5</text></g>
</svg>
